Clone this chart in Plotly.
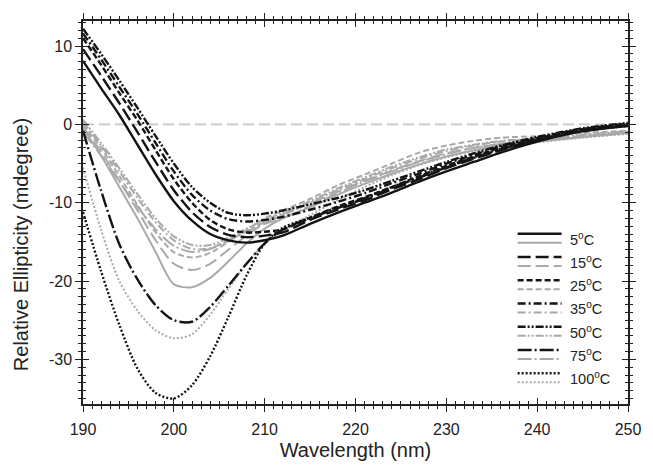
import plotly.graph_objects as go

# ---------------- data ----------------
wavelength = [190, 192, 194, 196, 198, 200, 202, 204, 206, 208, 210, 212,
              215, 218, 221, 224, 227, 230, 233, 236, 240, 245, 250]

temperatures = [5, 15, 25, 35, 50, 75, 100]

black_5 = [8.1, 4.6, 1.2, -2.6, -6.4, -9.8, -12.3, -14.0, -14.8, -15.1, -14.8, -14.2,
           -12.7, -11.3, -10.0, -8.7, -7.3, -6.0, -4.8, -3.6, -2.2, -0.9, -0.2]
black_15 = [9.6, 6.2, 2.7, -1.0, -4.8, -8.4, -11.2, -13.1, -14.1, -14.4, -14.2, -13.8,
            -12.2, -10.9, -9.7, -8.3, -7.0, -5.6, -4.4, -3.3, -2.0, -0.8, -0.1]
black_25 = [11.0, 7.6, 4.0, 0.5, -3.3, -7.0, -10.0, -12.2, -13.4, -13.8, -13.7, -13.4,
            -11.9, -10.5, -9.3, -8.0, -6.6, -5.3, -4.1, -3.0, -1.8, -0.6, 0.0]
black_35 = [11.6, 8.3, 4.8, 1.3, -2.4, -6.0, -9.0, -11.0, -12.1, -12.4, -12.2, -11.8,
            -10.9, -9.9, -8.8, -7.5, -6.3, -5.0, -3.9, -2.8, -1.7, -0.6, 0.1]
black_50 = [12.2, 9.0, 5.6, 2.1, -1.5, -5.0, -8.0, -10.0, -11.3, -11.6, -11.4, -11.0,
            -10.2, -9.4, -8.4, -7.2, -6.0, -4.8, -3.7, -2.7, -1.6, -0.5, 0.2]
black_75 = [-0.8, -8.5, -15.3, -19.8, -23.1, -25.0, -25.2, -23.3, -20.6, -17.8, -15.2, -13.4,
            -12.0, -10.7, -9.5, -8.1, -6.8, -5.5, -4.3, -3.2, -2.0, -0.8, -0.1]
black_100 = [-11.2, -18.8, -25.6, -31.2, -34.3, -35.0, -33.3, -29.6, -24.6, -19.3, -15.2, -13.2,
             -11.9, -10.6, -9.4, -8.0, -6.7, -5.4, -4.2, -3.1, -1.9, -0.8, -0.2]

gray_5 = [-0.5, -4.0, -8.0, -12.0, -16.3, -20.4, -20.8, -19.6, -17.5, -15.2, -13.3, -12.0,
          -10.6, -9.0, -7.6, -6.3, -5.1, -4.1, -3.3, -2.7, -2.2, -1.6, -1.1]
gray_15 = [-0.3, -3.5, -7.2, -11.0, -14.8, -17.8, -18.6, -17.8, -16.0, -14.2, -12.6, -11.5,
           -10.1, -8.6, -7.2, -5.9, -4.7, -3.7, -3.0, -2.5, -2.0, -1.5, -1.0]
gray_25 = [0.0, -3.0, -6.6, -10.3, -13.8, -16.3, -17.0, -16.4, -15.0, -13.5, -12.0, -11.0,
           -9.5, -7.8, -6.4, -5.0, -3.6, -2.7, -2.1, -1.7, -1.5, -1.1, -0.8]
gray_35 = [0.3, -2.7, -6.0, -9.4, -12.5, -14.8, -15.9, -15.8, -14.8, -13.6, -12.5, -11.6,
           -10.0, -8.4, -7.0, -5.6, -4.4, -3.4, -2.7, -2.2, -1.9, -1.4, -1.0]
gray_50 = [0.6, -2.4, -5.6, -8.9, -12.0, -14.3, -15.4, -15.4, -14.5, -13.3, -12.2, -11.3,
           -9.8, -8.2, -6.8, -5.4, -4.2, -3.2, -2.6, -2.1, -1.8, -1.3, -0.9]
gray_75 = [-1.0, -4.0, -7.3, -10.5, -13.4, -15.5, -16.3, -15.9, -14.9, -13.7, -12.7, -12.0,
           -10.4, -8.8, -7.3, -6.0, -4.8, -3.8, -3.0, -2.5, -2.1, -1.6, -1.1]
gray_100 = [-5.5, -13.5, -20.0, -23.8, -26.3, -27.3, -26.8, -24.3, -21.0, -17.8, -15.2, -13.5,
            -11.6, -9.7, -8.0, -6.5, -5.2, -4.2, -3.4, -2.8, -2.3, -1.7, -1.2]

black_series = [black_5, black_15, black_25, black_35, black_50, black_75, black_100]
gray_series = [gray_5, gray_15, gray_25, gray_35, gray_50, gray_75, gray_100]

x_tick_vals = [190, 200, 210, 220, 230, 240, 250]
y_tick_vals = [-30, -20, -10, 0, 10]
y_tick_text = ["-30", "-20", "-10", "0", "10"]

# ---------------- styling ----------------
BLACK = "#141414"
GRAY = "#a9a9a9"
AXIS = "#222222"
FONT = "Liberation Sans, Arial, sans-serif"
dashes = ["solid", "13px,5px", "6px,3px", "8px,3px,2px,3px",
          "8px,2px,2px,2px,2px,2px", "14px,3px,2px,3px", "2px,2px"]

fig = go.Figure()

for series, dash in zip(gray_series, dashes):
    fig.add_trace(go.Scatter(x=wavelength, y=series, mode="lines",
                             line=dict(color=GRAY, width=2, dash=dash, shape="spline", smoothing=0.8),
                             showlegend=False, hoverinfo="skip"))
for series, dash in zip(black_series, dashes):
    fig.add_trace(go.Scatter(x=wavelength, y=series, mode="lines",
                             line=dict(color=BLACK, width=2.4, dash=dash, shape="spline", smoothing=0.8),
                             showlegend=False, hoverinfo="skip"))

# dummy trace for the overlay axes (inside ticks)
fig.add_trace(go.Scatter(x=[None], y=[None], xaxis="x2", yaxis="y2",
                         showlegend=False, hoverinfo="skip"))

# zero reference line
fig.add_shape(type="line", xref="x", yref="y", x0=190, x1=250, y0=0, y1=0,
              line=dict(color="#c4c4c4", width=1.8, dash="11px,5px"), layer="below")

# plot-area pixel frame (for placing the manual legend / titles)
L, R_, T, B = 83, 641, 21, 408
def px(xp):
    return (xp - L) / (R_ - L)
def py(yp):
    return (B - yp) / (B - T)

# manual legend (two sample lines per entry)
for i, (t, dash) in enumerate(zip(temperatures, dashes)):
    yb = 236 + i * 23.5
    yg = yb + 9
    for yy, col in ((yb, BLACK), (yg, GRAY)):
        fig.add_shape(type="line", xref="paper", yref="paper",
                      x0=px(528), x1=px(573), y0=py(yy), y1=py(yy),
                      line=dict(color=col, width=2.4 if col == BLACK else 2, dash=dash))
    fig.add_annotation(xref="paper", yref="paper", x=px(580), y=py(yb + 5),
                       text=f"{t}<sup>o</sup>C", showarrow=False, xanchor="left", yanchor="middle",
                       font=dict(family=FONT, size=14.5, color=AXIS))

# y-axis title (placed as in the reference, slightly below the plot centre)
fig.add_annotation(xref="paper", yref="paper", x=px(19), y=py(247),
                   text="Relative Ellipticity (mdegree)", textangle=-90, showarrow=False,
                   xanchor="center", yanchor="middle",
                   font=dict(family=FONT, size=20, color=AXIS))

axis_common = dict(showline=True, linecolor=AXIS, linewidth=1.5, showgrid=False,
                   zeroline=False, mirror="ticks", tickcolor=AXIS, tickwidth=1.3)

fig.update_layout(
    width=653, height=470,
    margin=dict(l=L, r=653 - R_, t=T, b=470 - B),
    plot_bgcolor="white", paper_bgcolor="white",
    font=dict(family=FONT, color=AXIS),
    xaxis=dict(range=[190, 250], tickmode="array", tickvals=x_tick_vals,
               ticks="outside", ticklen=6, ticklabelstandoff=4,
               minor=dict(dtick=1, tick0=190, ticks="outside", ticklen=3, tickcolor=AXIS),
               tickfont=dict(size=16, family=FONT),
               title=dict(text="Wavelength (nm)", font=dict(size=20, family=FONT), standoff=6),
               **axis_common),
    yaxis=dict(range=[-35.7, 13.2], tickmode="array", tickvals=y_tick_vals, ticktext=y_tick_text,
               ticks="outside", ticklen=6,
               minor=dict(dtick=1, tick0=0, ticks="outside", ticklen=3, tickcolor=AXIS),
               tickfont=dict(size=16, family=FONT),
               **axis_common),
    xaxis2=dict(range=[190, 250], overlaying="x", anchor="y2", tickmode="array", tickvals=x_tick_vals,
                ticks="inside", ticklen=6, showticklabels=False,
                minor=dict(dtick=1, tick0=190, ticks="inside", ticklen=3, tickcolor=AXIS),
                **axis_common),
    yaxis2=dict(range=[-35.7, 13.2], overlaying="y", anchor="x2", tickmode="array", tickvals=y_tick_vals,
                ticks="inside", ticklen=6, showticklabels=False,
                minor=dict(dtick=1, tick0=0, ticks="inside", ticklen=3, tickcolor=AXIS),
                **axis_common),
)

fig.write_html("out.html")
